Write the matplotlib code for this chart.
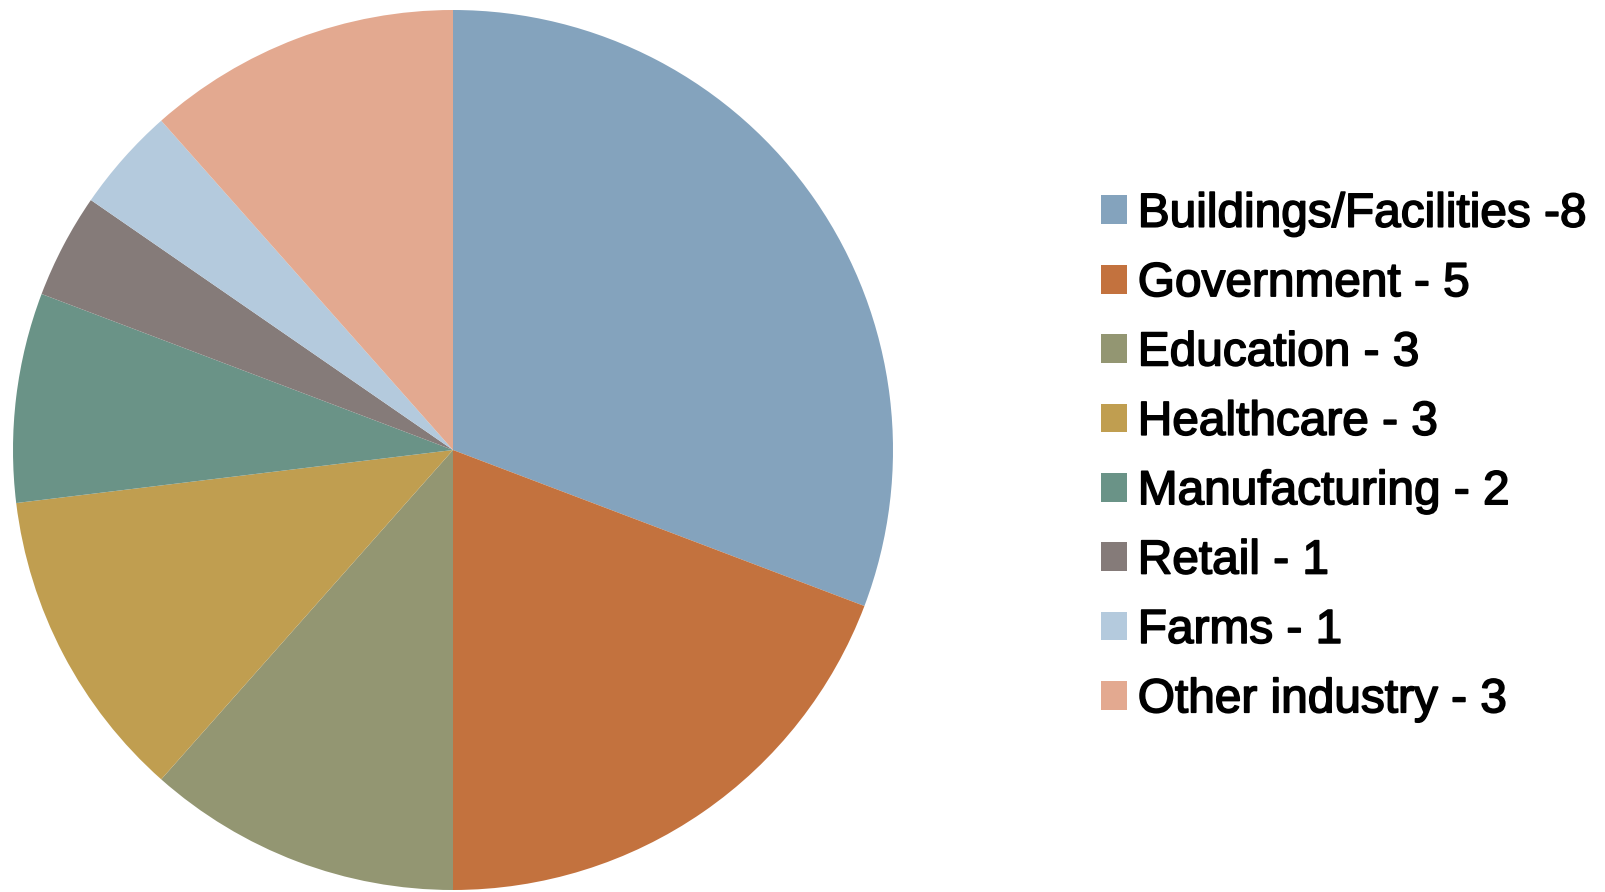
import matplotlib.pyplot as plt
import matplotlib.patheffects as pe
from matplotlib.patches import Patch

# Projects by sector
sectors = ["Buildings/Facilities", "Government", "Education", "Healthcare",
           "Manufacturing", "Retail", "Farms", "Other industry"]
counts = [8, 5, 3, 3, 2, 1, 1, 3]
legend_labels = ["Buildings/Facilities -8", "Government - 5", "Education - 3",
                 "Healthcare - 3", "Manufacturing - 2", "Retail - 1",
                 "Farms - 1", "Other industry - 3"]
colors = ["#84A3BD", "#C3723E", "#939672", "#C09E50",
          "#6A9387", "#857B79", "#B4CADD", "#E3A990"]

plt.rcParams["font.family"] = ["Liberation Sans", "DejaVu Sans"]

W, H = 1606, 892
fig = plt.figure(figsize=(W / 100, H / 100), dpi=100)

# Pie placed by pixel centre and radius
cx, cy, r = 453, 450, 440
ax = fig.add_axes([(cx - r) / W, (H - cy - r) / H, 2 * r / W, 2 * r / H])
ax.pie(counts, colors=colors, startangle=90, counterclock=False,
       radius=1.0, wedgeprops={"linewidth": 0})
ax.set_xlim(-1, 1)
ax.set_ylim(-1, 1)
ax.set_aspect("equal")
ax.axis("off")

handles = [Patch(facecolor=c, edgecolor="none") for c in colors]
leg = fig.legend(handles, legend_labels, loc="center left",
                 bbox_to_anchor=(1101 / W, 1 - 457 / H), frameon=False,
                 fontsize=34.4, handlelength=0.55, handleheight=0.55,
                 handletextpad=0.22, labelspacing=0.51, borderpad=0,
                 borderaxespad=0)
# slightly heavier glyphs
for t in leg.get_texts():
    t.set_path_effects([pe.withStroke(linewidth=1.2, foreground="black")])

fig.savefig("out.png", dpi=100)
